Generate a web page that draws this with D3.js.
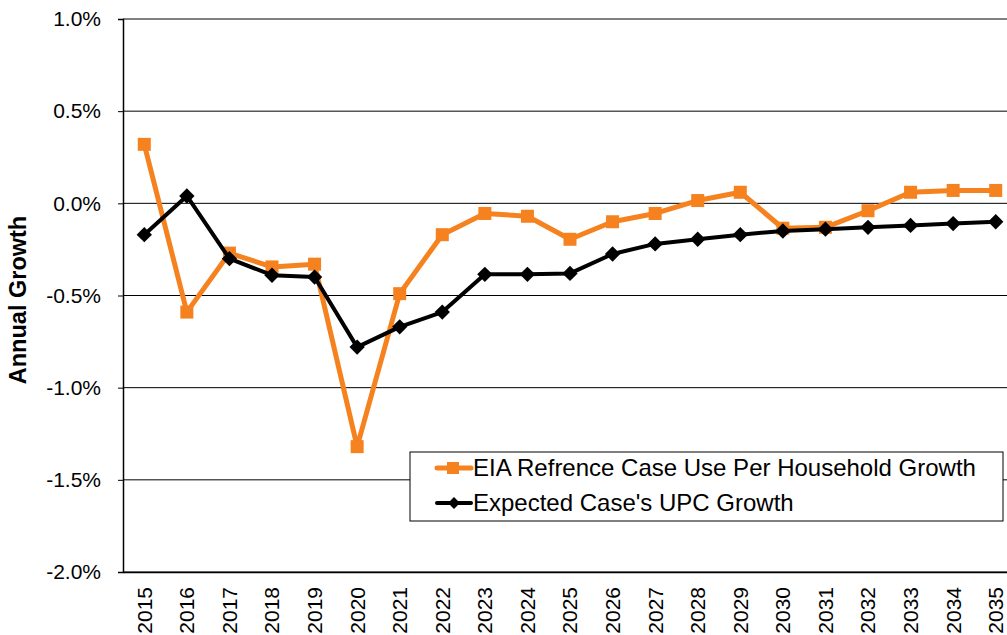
<!DOCTYPE html>
<html>
<head>
<meta charset="utf-8">
<title>Annual Growth</title>
<script src="https://d3js.org/d3.v7.min.js"></script>
<style>
 html, body { margin: 0; padding: 0; background: white; overflow: hidden; }
 svg { display: block; font-family: "Liberation Sans", Arial, sans-serif; }
 .tick text { fill: black; }
</style>
</head>
<body>
<div id="plot"></div>
<script>
 // data
 const years = ["2015","2016","2017","2018","2019","2020","2021","2022","2023","2024","2025",
                "2026","2027","2028","2029","2030","2031","2032","2033","2034","2035"];
 const eiaGrowth = [0.32, -0.59, -0.27, -0.345, -0.33, -1.32, -0.49, -0.17, -0.055, -0.07, -0.195,
                    -0.10, -0.055, 0.015, 0.06, -0.135, -0.13, -0.04, 0.06, 0.07, 0.07];
 const upcGrowth = [-0.17, 0.04, -0.30, -0.39, -0.40, -0.78, -0.67, -0.59, -0.385, -0.385, -0.38,
                    -0.275, -0.22, -0.195, -0.17, -0.15, -0.14, -0.13, -0.12, -0.11, -0.10];
 const yTicks = [1.0, 0.5, 0.0, -0.5, -1.0, -1.5, -2.0];
 const seriesNames = ["EIA Refrence Case Use Per Household Growth", "Expected Case's UPC Growth"];

 const orange = "#F5821F";
 const W = 1007, H = 635;
 const margin = {top: 19, left: 123};
 const plotW = 894, plotH = 553;

 const svg = d3.select("#plot").append("svg")
     .attr("width", W).attr("height", H);
 const g = svg.append("g").attr("transform", `translate(${margin.left},${margin.top})`);

 const x = d3.scaleBand().domain(years).range([0, plotW]);
 const y = d3.scaleLinear().domain([-2.0, 1.0]).range([plotH, 0]);
 const cx = d => x(d) + x.bandwidth() / 2;

 // gridlines
 g.selectAll(".grid").data(yTicks).join("line")
  .attr("x1", 0).attr("x2", plotW)
  .attr("y1", d => y(d)).attr("y2", d => y(d))
  .attr("stroke", "black").attr("stroke-width", 1);

 // y axis
 const fmt = d3.formatLocale({decimal: ".", thousands: ",", grouping: [3], currency: ["", ""], minus: "-"}).format(".1f");
 const yAxis = g.append("g")
   .call(d3.axisLeft(y).tickValues(yTicks).tickSize(5).tickPadding(17)
           .tickFormat(d => fmt(d) + "%"));
 yAxis.select(".domain").attr("stroke-width", 1.5);
 yAxis.selectAll("text").attr("font-size", 21).attr("font-family", "Liberation Sans, Arial, sans-serif");

 // x axis
 const xAxis = g.append("g").attr("transform", `translate(0,${plotH})`)
   .call(d3.axisBottom(x).tickSize(0).tickSizeOuter(0));
 xAxis.select(".domain").attr("stroke-width", 1.5);
 xAxis.selectAll("text")
   .attr("font-size", 21).attr("font-family", "Liberation Sans, Arial, sans-serif")
   .attr("transform", "rotate(-90)")
   .attr("text-anchor", "end")
   .attr("x", -15).attr("y", 0).attr("dy", "0.35em");

 // axis title
 svg.append("text")
   .attr("transform", `translate(26,300) rotate(-90)`)
   .attr("text-anchor", "middle")
   .attr("font-size", 23.5).attr("font-weight", "bold")
   .text("Annual Growth");

 const line = d3.line().x((d, i) => cx(years[i])).y(d => y(d));

 // EIA series
 g.append("path").datum(eiaGrowth)
   .attr("fill", "none").attr("stroke", orange).attr("stroke-width", 5)
   .attr("stroke-linejoin", "round").attr("d", line);
 g.selectAll(".sq").data(eiaGrowth).join("rect")
   .attr("x", (d, i) => cx(years[i]) - 6.5).attr("y", d => y(d) - 6.5)
   .attr("width", 13).attr("height", 13).attr("fill", orange);

 // UPC series
 const diamond = d3.symbol().type(d3.symbolDiamond2).size(150);
 g.append("path").datum(upcGrowth)
   .attr("fill", "none").attr("stroke", "black").attr("stroke-width", 4)
   .attr("stroke-linejoin", "round").attr("d", line);
 g.selectAll(".dm").data(upcGrowth).join("path")
   .attr("transform", (d, i) => `translate(${cx(years[i])},${y(d)})`)
   .attr("d", diamond).attr("fill", "black");

 // legend
 const lg = svg.append("g").attr("transform", "translate(410,452)");
 lg.append("rect").attr("width", 593).attr("height", 69)
   .attr("fill", "white").attr("stroke", "black").attr("stroke-width", 1);
 const rows = [
   {name: seriesNames[0], color: orange, width: 5, cy: 16, marker: "sq"},
   {name: seriesNames[1], color: "black", width: 4, cy: 51, marker: "dm"}
 ];
 rows.forEach(r => {
   lg.append("line").attr("x1", 27).attr("x2", 61).attr("y1", r.cy).attr("y2", r.cy)
     .attr("stroke", r.color).attr("stroke-width", r.width).attr("stroke-linecap", "round");
   if (r.marker === "sq") {
     lg.append("rect").attr("x", 37).attr("y", r.cy - 6).attr("width", 12).attr("height", 12).attr("fill", r.color);
   } else {
     lg.append("path").attr("transform", `translate(44,${r.cy})`)
       .attr("d", d3.symbol().type(d3.symbolDiamond2).size(90)).attr("fill", r.color);
   }
   lg.append("text").attr("x", 63).attr("y", r.cy).attr("dy", "0.35em")
     .attr("font-size", 24).text(r.name);
 });
</script>
</body>
</html>
